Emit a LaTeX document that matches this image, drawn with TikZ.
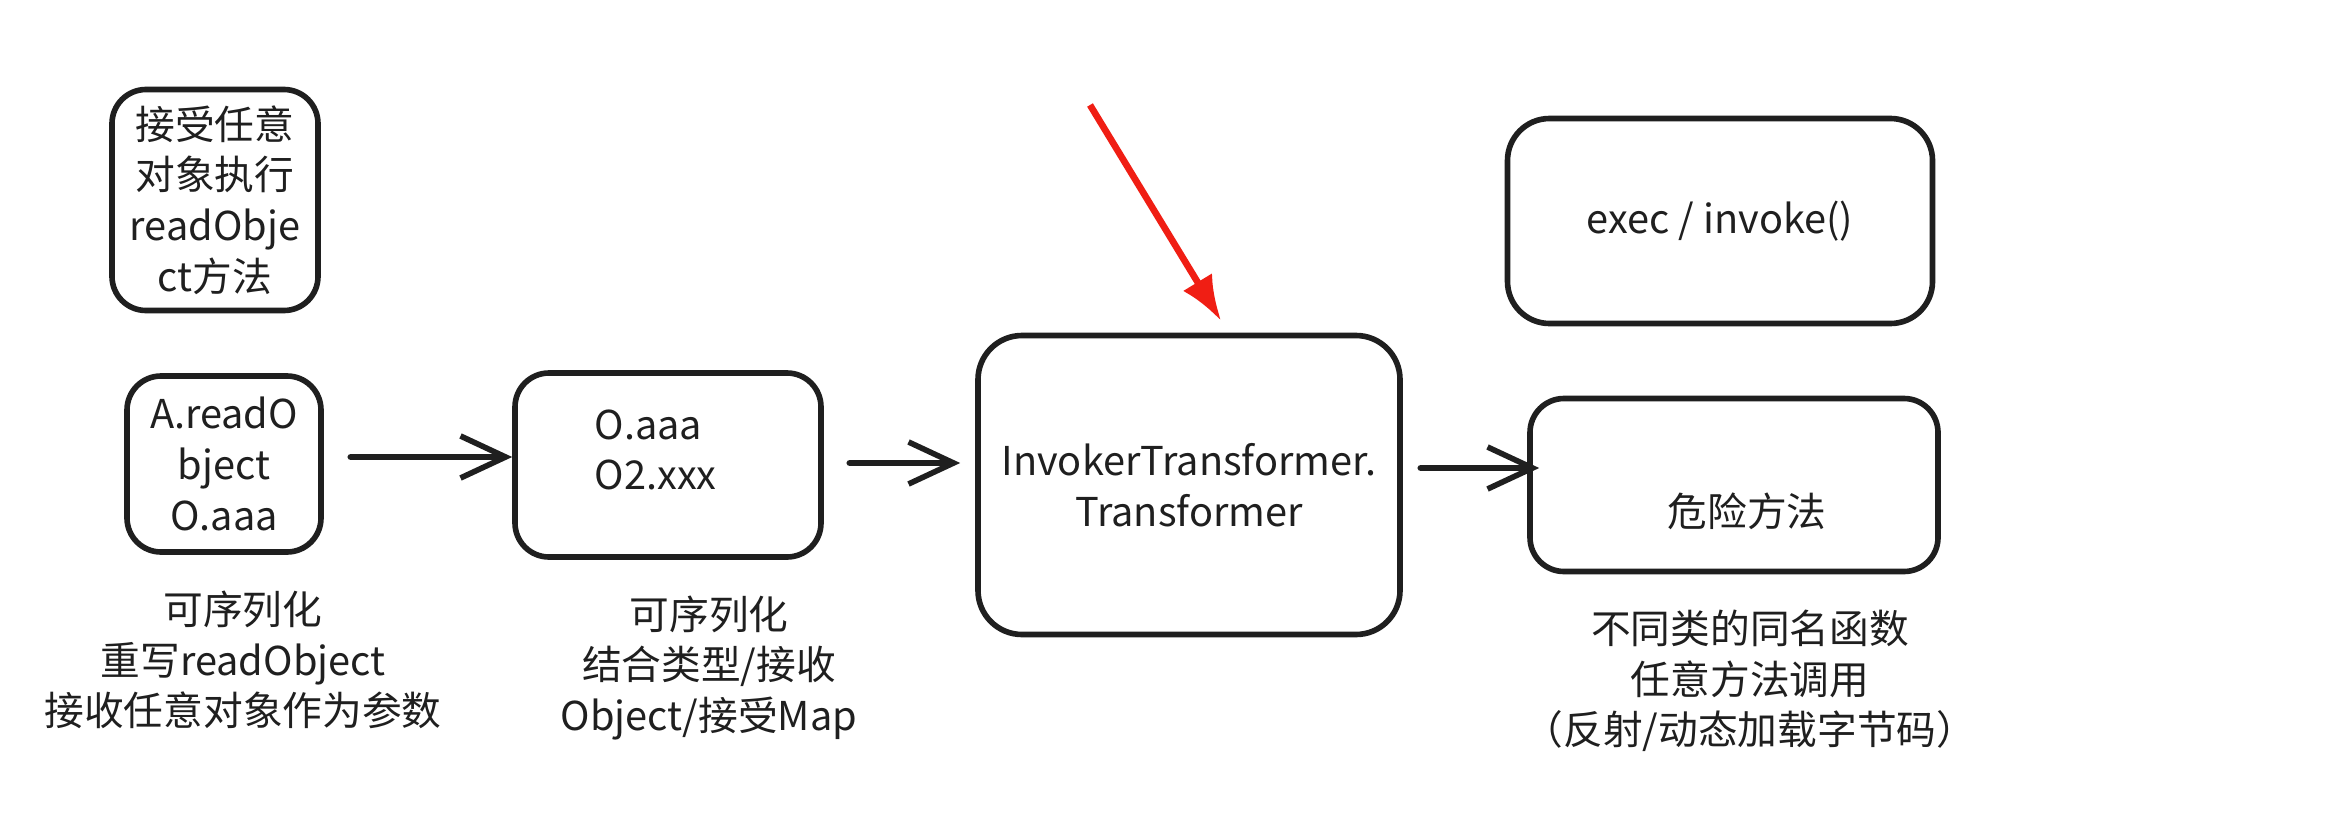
\documentclass[tikz,border=0pt]{standalone}
\usepackage{fontspec}
\setmainfont{Noto Sans CJK SC}
\usetikzlibrary{arrows.meta,calc}
\begin{document}
\begin{tikzpicture}[x=1cm,y=1cm,
 box/.style={draw=black!88, line width=1.6pt, rounded corners=0.34cm, inner sep=0pt, align=center,
   font=\fontsize{11.3pt}{14.4pt}\selectfont, text=black!88},
 txt/.style={align=center, font=\fontsize{11.3pt}{14.4pt}\selectfont, text=black!88, inner sep=0pt},
 arr/.style={draw=black!88, line width=1.9pt, line cap=round,
   -{Straight Barb[length=0.45cm,width=0.42cm,line width=1.6pt]}},
 redarr/.style={draw={rgb,255:red,240;green,30;blue,20}, line width=1.9pt,
   -{Latex[length=0.45cm,width=0.34cm]}},
]
\fill[white] (0,0) rectangle (23.41,-8.37);
\useasboundingbox (0,0) rectangle (23.41,-8.37);

\node[box, minimum width=2.06cm, minimum height=2.21cm] (b1) at (2.15,-2.00)
  {接受任意\\对象执行\\readObje\\ct方法};

\node[box, minimum width=1.94cm, minimum height=1.76cm] (bA) at (2.24,-4.64)
  {A.readO\\bject\\O.aaa};
\node[txt] (lA) at (2.43,-6.60) {可序列化\\重写readObject\\接收任意对象作为参数};

\node[box, minimum width=3.06cm, minimum height=1.84cm] (b2) at (6.68,-4.65) {};
\node[txt, align=left, anchor=west] (t2) at (5.94,-4.50) {O.aaa\\O2.xxx};
\node[txt] (l2) at (7.09,-6.68) {可序列化\\结合类型/接收\\Object/接受Map};

\node[box, minimum width=4.22cm, minimum height=2.99cm, rounded corners=0.44cm] (b3) at (11.89,-4.85)
  {InvokerTransformer.\\Transformer};

\node[box, minimum width=4.25cm, minimum height=2.05cm, rounded corners=0.42cm] (b4) at (17.20,-2.21)
  {exec / invoke()};

\node[box, minimum width=4.08cm, minimum height=1.73cm] (b5) at (17.34,-4.85) {};
\node[txt] (t5) at (17.47,-5.11) {危险方法};
\node[txt] (l5) at (17.50,-6.81) {不同类的同名函数\\任意方法调用\\（反射/动态加载字节码）};

\draw[arr, shorten <=0.27cm] ($(bA.east)+(0,0.07)$) -- ($(bA.east -| b2.west)+(0,0.07)$);
\draw[arr, shorten <=0.26cm, shorten >=0.15cm] ($(b2.east)+(0,0.02)$) -- ($(b2.east -| b3.west)+(0,0.02)$);
\draw[arr, shorten <=0.18cm, shorten >=-0.12cm] ($(b3.east)+(0,0.17)$) -- ($(b3.east -| b5.west)+(0,0.17)$);

\coordinate (rs) at (10.90,-1.05);
\draw[redarr] (rs) -- ($(b3.north)+(0.32,0.12)$);
\end{tikzpicture}
\end{document}
